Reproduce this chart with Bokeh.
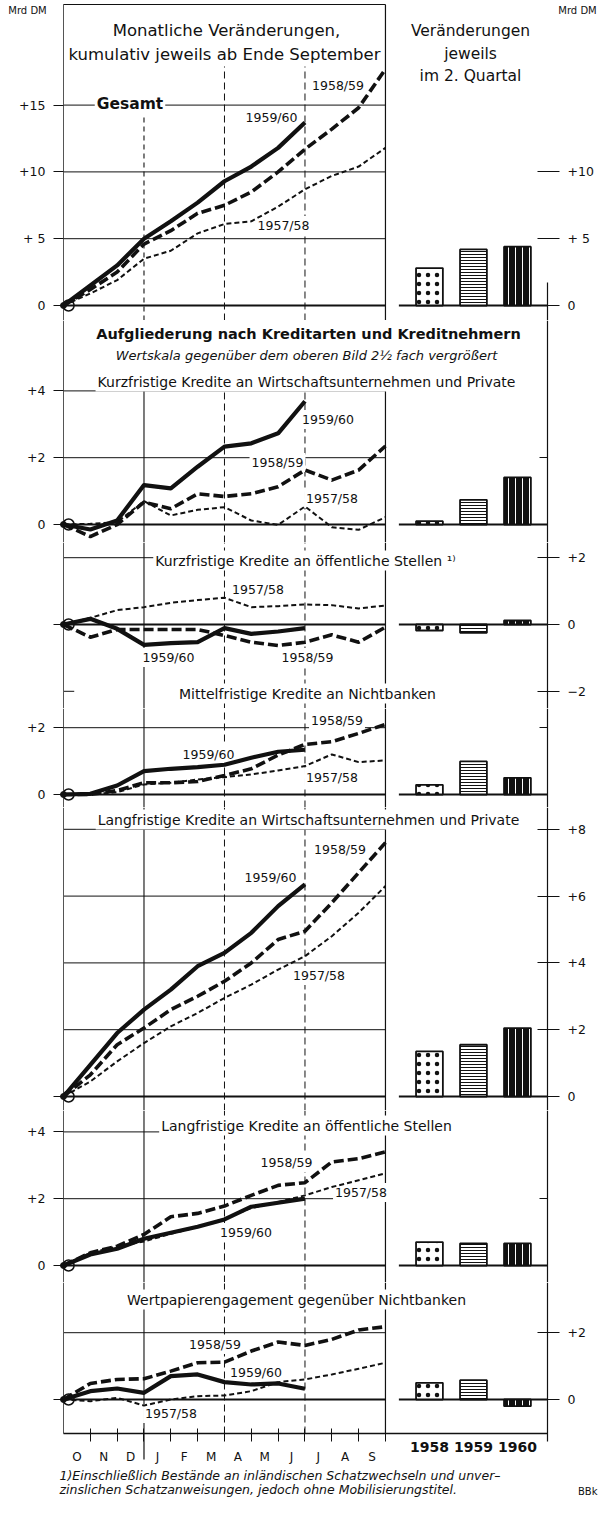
from bokeh.plotting import figure
from bokeh.models import Range1d, LinearAxis, FixedTicker
from bokeh.layouts import column
from bokeh.embed import file_html
from bokeh.resources import INLINE
from bokeh.core.properties import value

# ---------------- data (Mrd DM, cumulative since end of September) ----------------
month_labels = ["O", "N", "D", "J", "F", "M", "A", "M", "J", "J", "A", "S"]
bar_years = ["1958", "1959", "1960"]
series_names = ["1959/60", "1958/59", "1957/58"]

# Gesamt
gesamt_5960 = [0, 1.5, 3.0, 5.0, 6.3, 7.7, 9.3, 10.4, 11.8, 13.7]
gesamt_5859 = [0, 1.2, 2.5, 4.6, 5.6, 6.9, 7.5, 8.5, 10.0, 11.7, 13.2, 14.8, 17.7]
gesamt_5758 = [0, 0.9, 1.9, 3.5, 4.1, 5.4, 6.1, 6.3, 7.4, 8.7, 9.7, 10.4, 11.8]
gesamt_q2 = [2.8, 4.2, 4.4]

# Kurzfristige Kredite an Wirtschaftsunternehmen und Private
kwu_5960 = [0, -0.15, 0.12, 1.18, 1.08, 1.73, 2.33, 2.43, 2.73, 3.69]
kwu_5859 = [0, -0.36, 0.0, 0.67, 0.47, 0.92, 0.84, 0.92, 1.13, 1.63, 1.33, 1.63, 2.35]
kwu_5758 = [0, 0.02, 0.07, 0.7, 0.27, 0.44, 0.52, 0.12, -0.01, 0.54, -0.08, -0.16, 0.22]
kwu_q2 = [0.1, 0.74, 1.41]

# Kurzfristige Kredite an oeffentliche Stellen
koe_5960 = [0, 0.17, -0.13, -0.61, -0.56, -0.53, -0.11, -0.28, -0.21, -0.11]
koe_5859 = [0, -0.38, -0.15, -0.15, -0.15, -0.15, -0.33, -0.53, -0.63, -0.53, -0.31, -0.53, -0.08]
koe_5758 = [0, 0.2, 0.43, 0.52, 0.65, 0.73, 0.8, 0.52, 0.55, 0.6, 0.58, 0.48, 0.57]
koe_q2 = [-0.18, -0.25, 0.12]

# Mittelfristige Kredite an Nichtbanken
mnb_5960 = [0, 0.02, 0.27, 0.7, 0.77, 0.82, 0.89, 1.1, 1.28, 1.34]
mnb_5859 = [0, 0.0, 0.12, 0.35, 0.35, 0.39, 0.57, 0.77, 1.18, 1.5, 1.58, 1.83, 2.1]
mnb_5758 = [0, 0.0, 0.07, 0.3, 0.35, 0.45, 0.52, 0.6, 0.72, 0.85, 1.2, 0.97, 1.02]
mnb_q2 = [0.29, 0.99, 0.5]

# Langfristige Kredite an Wirtschaftsunternehmen und Private
lwu_5960 = [0, 0.95, 1.9, 2.6, 3.2, 3.9, 4.3, 4.9, 5.7, 6.35]
lwu_5859 = [0, 0.65, 1.55, 2.05, 2.6, 3.0, 3.45, 4.0, 4.7, 4.95, 5.8, 6.7, 7.6]
lwu_5758 = [0, 0.45, 1.05, 1.6, 2.1, 2.5, 2.95, 3.35, 3.8, 4.2, 4.8, 5.5, 6.3]
lwu_q2 = [1.35, 1.55, 2.05]

# Langfristige Kredite an oeffentliche Stellen
loe_5960 = [0, 0.33, 0.5, 0.8, 0.98, 1.16, 1.38, 1.76, 1.88, 2.0]
loe_5859 = [0, 0.38, 0.58, 0.93, 1.46, 1.56, 1.78, 2.1, 2.4, 2.48, 3.1, 3.2, 3.4]
loe_5758 = [0, 0.38, 0.57, 0.72, 0.95, 1.15, 1.4, 1.72, 1.9, 2.1, 2.35, 2.55, 2.76]
loe_q2 = [0.7, 0.66, 0.66]

# Wertpapierengagement gegenueber Nichtbanken
wp_5960 = [0, 0.25, 0.33, 0.2, 0.7, 0.75, 0.52, 0.45, 0.48, 0.32]
wp_5859 = [0, 0.48, 0.6, 0.62, 0.85, 1.1, 1.12, 1.45, 1.72, 1.62, 1.8, 2.08, 2.18]
wp_5758 = [0, -0.05, 0.05, -0.18, 0.0, 0.1, 0.12, 0.25, 0.52, 0.6, 0.75, 0.92, 1.1]
wp_q2 = [0.5, 0.58, -0.2]

footnote_1 = "1)Einschließlich Bestände an inländischen Schatzwechseln und unver\u2013"
footnote_2 = "zinslichen Schatzanweisungen, jedoch ohne Mobilisierungstitel."

# ---------------- layout / style ----------------
FONT = "DejaVu Sans"
INK = "#111111"
PX = 26.83          # pixels per month
X0 = 71             # page x of month 0
FR = 555            # page x of right axis
W = 598
S1 = 13.36
S2 = 33.4
BAR_X0 = 13.64
BAR_STEP = 1.64


def mx(px):
    return (px - X0) / PX


XR = mx(FR)

line_styles = [
    dict(line_width=4.2, line_dash="solid"),
    dict(line_width=3.6, line_dash="10 4"),
    dict(line_width=2.0, line_dash="5 3"),
]
bar_styles = [
    dict(fill_color="white", hatch_pattern="dot", hatch_scale=9, hatch_weight=3, hatch_color=INK),
    dict(fill_color="white", hatch_pattern="horizontal_line", hatch_scale=3, hatch_weight=1, hatch_color=INK),
    dict(fill_color=INK, hatch_pattern="vertical_line", hatch_scale=7, hatch_weight=1.0, hatch_color="white"),
]

rows = [
    dict(top=8, bot=328, zero=313, s=S1,
         series=[gesamt_5960, gesamt_5859, gesamt_5758], q2=gesamt_q2,
         lt={0: "0", 5: "+ 5", 10: "+10", 15: "+15"}, rt={0: "0", 5: "+ 5", 10: "+10"}, rlab=True,
         grid=[(5, 0, 12), (10, 0, 12), (15, 0, 12)],
         vtop={0: 12, 3: 120, 6: 74, 9: 74, 12: 12}, raxis_top=290,
         labels=[(279, 125), (345.5, 93), (291, 233)],
         titles=[("Monatliche Veränderungen,", 234, 38, "16.5px", "normal"),
                 ("kumulativ jeweils ab Ende September", 232, 62, "16.5px", "normal"),
                 ("Veränderungen", 478, 38, "15.5px", "normal"),
                 ("jeweils", 478, 61, "15.5px", "normal"),
                 ("im 2. Quartal", 478, 83, "15.5px", "normal"),
                 ("Gesamt", 137.5, 111, "15.5px", "bold")]),
    dict(top=328, bot=550, zero=532, s=S2,
         series=[kwu_5960, kwu_5859, kwu_5758], q2=kwu_q2,
         lt={0: "0", 2: "+2", 4: "+4"}, rt={2: ""}, rlab=False,
         grid=[(2, 0, 12), (4, 0, 12)],
         vtop={3: 398, 6: 398, 9: 398, 12: 398},
         labels=[(335.5, 427), (285, 470), (339.5, 506)],
         titles=[("Aufgliederung nach Kreditarten und Kreditnehmern", 316, 341, "14.5px", "bold"),
                 ("Wertskala gegenüber dem oberen Bild 2½ fach vergrößert", 314, 363, "13px", "italic"),
                 ("Kurzfristige Kredite an Wirtschaftsunternehmen und Private", 314, 389, "14px", "normal")]),
    dict(top=550, bot=716, zero=632, s=S2,
         series=[koe_5960, koe_5859, koe_5758], q2=koe_q2,
         lt={0: ""}, rt={2: "+2", 0: "0", -2: "\u22122"}, rlab=True,
         grid=[(2, 0, 12), (-2, 0, 0.4)],
         labels=[(176, 665), (315, 665), (265.5, 597)],
         titles=[("Kurzfristige Kredite an öffentliche Stellen \u00b9\u207e", 313, 568, "14px", "normal"),
                 ("Mittelfristige Kredite an Nichtbanken", 315, 701, "14px", "normal")]),
    dict(top=716, bot=815, zero=802, s=S2,
         series=[mnb_5960, mnb_5859, mnb_5758], q2=mnb_q2,
         lt={0: "0", 2: "+2"}, rt={2: ""}, rlab=False,
         grid=[(2, 0, 12)],
         labels=[(216, 762), (344.5, 728), (339.5, 785)],
         titles=[]),
    dict(top=815, bot=1118, zero=1104, s=S2,
         series=[lwu_5960, lwu_5859, lwu_5758], q2=lwu_q2,
         lt={0: ""}, rt={0: "0", 2: "+2", 4: "+4", 6: "+6", 8: "+8"}, rlab=True,
         grid=[(2, 0, 12), (4, 0, 12), (6, 0, 12), (8, 0, 12)],
         labels=[(278, 885), (347.5, 857), (326.5, 983)],
         titles=[("Langfristige Kredite an Wirtschaftsunternehmen und Private", 316, 827, "14px", "normal")]),
    dict(top=1118, bot=1290, zero=1273, s=S2,
         series=[loe_5960, loe_5859, loe_5758], q2=loe_q2,
         lt={0: "0", 2: "+2", 4: "+4"}, rt={2: ""}, rlab=False,
         grid=[(2, 0, 12), (4, 0, 12)],
         labels=[(253.5, 1240), (294, 1170), (368.5, 1200)],
         titles=[("Langfristige Kredite an öffentliche Stellen", 314, 1133, "14px", "normal")]),
    dict(top=1290, bot=1506, zero=1407, s=S2,
         series=[wp_5960, wp_5859, wp_5758], q2=wp_q2,
         lt={0: ""}, rt={0: "0", 2: "+2"}, rlab=True,
         grid=[(2, 0, 12)],
         vbot=1441, raxis_bot=1449,
         labels=[(263.5, 1380), (222.5, 1352), (178.5, 1421)],
         titles=[("Wertpapierengagement gegenüber Nichtbanken", 304, 1307, "14px", "normal")]),
]


def txt(p, x, y, s, size, style="normal", bg=True, align="center"):
    kw = dict(x=[x], y=[y], text=[s], text_font=value(FONT), text_font_size=value(size),
              text_font_style=style, text_align=align, text_baseline="middle", text_color=INK)
    if bg:
        kw.update(background_fill_color="white", padding=2)
    p.text(**kw)


figs = []
last = len(rows) - 1
for i, r in enumerate(rows):
    z, s = r["zero"], r["s"]

    def vy(py, z=z, s=s):
        return (z - py) / s

    ys, ye = vy(r["bot"]), vy(r["top"])
    p = figure(width=W, height=r["bot"] - r["top"], x_range=Range1d(mx(8), mx(606)),
               y_range=Range1d(ys, ye), min_border_left=0, min_border_right=0, min_border_top=0,
               min_border_bottom=0, toolbar_location=None, output_backend="svg",
               x_axis_location=None, y_axis_location=None, outline_line_color=None,
               background_fill_color="white", border_fill_color="white")
    p.grid.visible = False

    y_low = vy(r["vbot"]) if "vbot" in r else ys
    vtop = r.get("vtop", {})

    # horizontal grid lines (left panel)
    for lev, a, b in r["grid"]:
        p.segment(x0=[a], y0=[lev], x1=[b], y1=[lev], line_color=INK, line_width=1)

    # vertical month lines
    for m, dash, w, col in [(0, "solid", 1.0, "#555555"), (3, "solid", 1.1, INK), (6, "7 4", 1.0, INK),
                            (9, "7 4", 1.0, INK), (12, "solid", 1.2, INK)]:
        if i == 0 and m == 3:
            dash = "5 4"
        y_top = vy(vtop[m]) if m in vtop else ye
        p.segment(x0=[m], y0=[y_low], x1=[m], y1=[y_top], line_color=col, line_width=w, line_dash=dash)

    # right axis line
    ra_top = vy(r["raxis_top"]) if "raxis_top" in r else ye
    ra_bot = vy(r["raxis_bot"]) if "raxis_bot" in r else ys
    p.segment(x0=[XR], y0=[ra_bot], x1=[XR], y1=[ra_top], line_color=INK, line_width=1.2)

    if i == 0:
        p.segment(x0=[0], y0=[vy(12)], x1=[12], y1=[vy(12)], line_color=INK, line_width=1.2)
    if i == last:
        p.segment(x0=[0], y0=[y_low], x1=[XR], y1=[y_low], line_color=INK, line_width=1.4)
        p.segment(x0=[3], y0=[y_low], x1=[3], y1=[vy(1467)], line_color=INK, line_width=1.2)

    # zero lines
    p.segment(x0=[0], y0=[0], x1=[12], y1=[0], line_color=INK, line_width=1.8)
    p.segment(x0=[12.5], y0=[0], x1=[XR], y1=[0], line_color=INK, line_width=2)

    # bars (changes in Q2)
    for j, (v, st) in enumerate(zip(r["q2"], bar_styles)):
        p.vbar(x=[BAR_X0 + BAR_STEP * j], top=[v], bottom=0, width=1.0,
               line_color=INK, line_width=1.8, **st)

    for name, (lx, ly) in zip(series_names, r["labels"]):
        txt(p, mx(lx), vy(ly), name, "12.5px")

    # lines
    for vals, st in zip(r["series"], line_styles):
        p.line(x=list(range(len(vals))), y=vals, line_color=INK, line_join="round", line_cap="butt", **st)

    # origin marker
    p.scatter(x=[0.19], y=[0], size=11, marker="circle", fill_color=None, line_color=INK, line_width=1.5)
    p.scatter(x=[0], y=[0], size=6, marker="circle", fill_color=INK, line_color=INK)

    for t, tx, ty, size, style in r["titles"]:
        txt(p, mx(tx), vy(ty), t, size, style)

    # axes at fixed locations inside the full-width frame
    la = LinearAxis(fixed_location=0, ticker=FixedTicker(ticks=list(r["lt"].keys())),
                    major_label_overrides=r["lt"],
                    axis_line_color=None, major_tick_in=0, major_tick_out=10,
                    major_tick_line_color=INK, major_tick_line_width=1,
                    minor_tick_line_color=None, major_label_standoff=8,
                    major_label_text_font=FONT, major_label_text_font_size="12.5px",
                    major_label_text_color=INK)
    p.add_layout(la, "left")
    ra = LinearAxis(fixed_location=XR, ticker=FixedTicker(ticks=list(r["rt"].keys())),
                    major_label_overrides=r["rt"], axis_line_color=None,
                    major_tick_in=10 if r["rlab"] else 8, major_tick_out=12 if r["rlab"] else 0,
                    major_tick_line_color=INK, major_tick_line_width=1,
                    minor_tick_line_color=None, major_label_standoff=8,
                    major_label_text_font=FONT, major_label_text_font_size="12.5px",
                    major_label_text_color=INK)
    p.add_layout(ra, "right")

    if i == 0:
        for lx in (35, 585):
            txt(p, mx(lx), vy(18), "Mrd DM", "10px", bg=False)

    if i == last:
        centers = [m + 0.5 for m in range(len(month_labels))]
        xa = LinearAxis(fixed_location=y_low,
                        ticker=FixedTicker(ticks=centers, minor_ticks=list(range(1, 13))),
                        major_label_overrides={c: lab for c, lab in zip(centers, month_labels)},
                        axis_line_color=None, major_tick_in=0, major_tick_out=0,
                        minor_tick_in=5, minor_tick_out=8, minor_tick_line_color=INK,
                        major_label_standoff=8, major_label_text_font=FONT,
                        major_label_text_font_size="12px", major_label_text_color=INK)
        p.add_layout(xa, "below")
        bar_centers = [BAR_X0 + BAR_STEP * j for j in range(len(bar_years))]
        ya = LinearAxis(fixed_location=y_low, ticker=FixedTicker(ticks=bar_centers),
                        major_label_overrides={c: yr for c, yr in zip(bar_centers, bar_years)},
                        axis_line_color=None, major_tick_in=0, major_tick_out=0,
                        minor_tick_line_color=None, major_label_standoff=8,
                        major_label_text_font=FONT, major_label_text_font_size="14px",
                        major_label_text_font_style="bold", major_label_text_color=INK)
        p.add_layout(ya, "below")
        txt(p, mx(67), vy(1483), footnote_1, "12.5px", "italic", bg=False, align="left")
        txt(p, mx(67), vy(1497), footnote_2, "12.5px", "italic", bg=False, align="left")
        txt(p, mx(605), vy(1499), "BBk", "10px", bg=False, align="right")
    figs.append(p)

layout = column(*figs, spacing=0)
open("out.html", "w").write(file_html(layout, INLINE))
